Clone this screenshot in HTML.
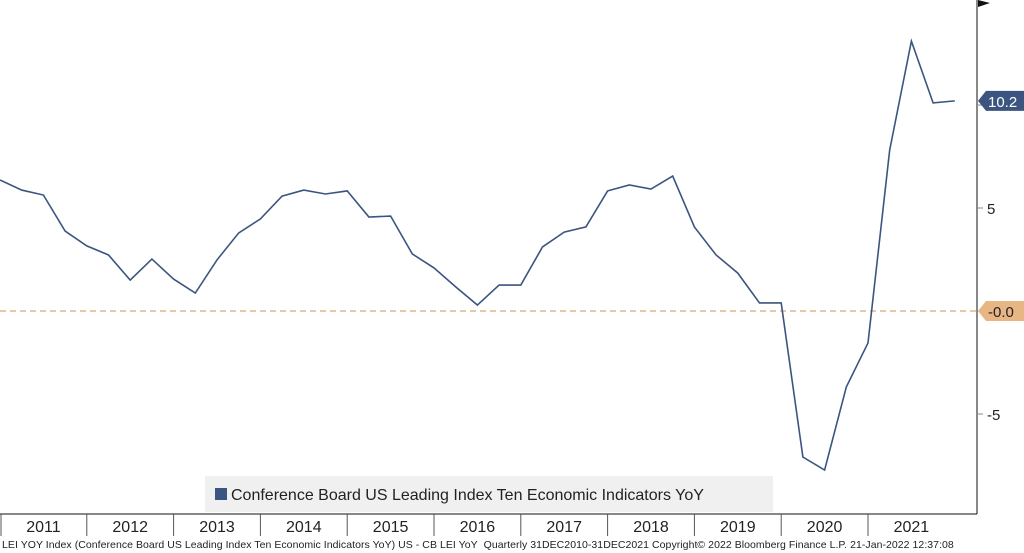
<!DOCTYPE html>
<html><head><meta charset="utf-8"><style>
body{margin:0;background:#fff;font-family:"Liberation Sans",sans-serif}
#wrap{position:relative;width:1024px;height:553px;overflow:hidden}
</style></head><body>
<div id="wrap">
<svg id="svg" width="1024" height="553"></svg>
<div style="position:absolute;left:2px;top:539px;font-size:10.5px;color:#222;white-space:nowrap;letter-spacing:0.05px">LEI YOY Index (Conference Board US Leading Index Ten Economic Indicators YoY) US - CB LEI YoY&nbsp; Quarterly 31DEC2010-31DEC2021 Copyright© 2022 Bloomberg Finance L.P. 21-Jan-2022 12:37:08</div>
</div>
<script>
const years=["2011","2012","2013","2014","2015","2016","2017","2018","2019","2020","2021"];
const values=[6.36,5.87,5.63,3.88,3.16,2.72,1.50,2.52,1.55,0.87,2.48,3.79,4.47,5.58,5.87,5.68,5.83,4.56,4.61,2.77,2.09,1.17,0.29,1.26,1.26,3.11,3.83,4.08,5.83,6.12,5.92,6.55,4.08,2.72,1.84,0.39,0.39,-7.09,-7.72,-3.69,-1.55,7.82,13.1,10.1,10.2];
const yTicks=[-5,5];
const NS="http://www.w3.org/2000/svg";
const svg=document.getElementById('svg');
function el(t,a,p){const e=document.createElementNS(NS,t);for(const k in a)e.setAttribute(k,a[k]);(p||svg).appendChild(e);return e;}
const x=i=>i*21.7;
const y=v=>311-v*20.6;
const yearW=86.8;
// zero line
const z=el('line',{x1:0,x2:977,y1:y(0),y2:y(0),stroke:'#d9a878','stroke-width':1.2,'stroke-dasharray':'6,4'});


// axis
const ax=el('line',{x1:977,x2:977,y1:0,y2:514,stroke:'#888','stroke-width':2});


el('path',{d:'M978,0 L990,3 L978,7 Z',fill:'#111'});
[10,0].forEach(v=>{const t=el('line',{x1:977,x2:983,y1:y(v),y2:y(v),stroke:'#888'});});
yTicks.forEach(v=>{
 const t=el('line',{x1:977,x2:983,y1:y(v),y2:y(v),stroke:'#888'});
 
 
 const tx=el('text',{x:987,y:y(v)+6,'font-size':15,fill:'#222','font-family':'Liberation Sans'});
 tx.textContent=String(v);
 
 
});
// series
const pl=el('polyline',{points:values.map((v,i)=>x(i)+','+y(v)).join(' '),fill:'none',stroke:'#3b5580','stroke-width':1.6});


// last value tag
const last=values[values.length-1];
const ly=y(last);
const tag=el('path',{d:`M978,${ly} L986,${ly-10} L1024,${ly-10} L1024,${ly+10} L986,${ly+10} Z`,fill:'#3b5580'});


const tt=el('text',{x:988,y:ly+6,'font-size':15,fill:'#fff'});
tt.textContent=last.toFixed(1);


const zy=y(0);
const ztag=el('path',{d:`M978,${zy} L986,${zy-10} L1024,${zy-10} L1024,${zy+10} L986,${zy+10} Z`,fill:'#e8b584'});


const zt=el('text',{x:988,y:zy+6,'font-size':15,fill:'#222'});
zt.textContent='-0.0';


// legend
const lg=el('rect',{x:205,y:476,width:568,height:36,fill:'#f0f0f0'});


el('rect',{x:215,y:488,width:12,height:12,fill:'#3b5580'});
const lt=el('text',{x:231,y:500,'font-size':16,fill:'#222'});
lt.textContent='Conference Board US Leading Index Ten Economic Indicators YoY';


// x axis
const xl=el('line',{x1:0,x2:977,y1:514,y2:514,stroke:'#111','stroke-width':1});


years.forEach((yr,i)=>{
 if(i>0){const s=el('line',{x1:i*yearW,x2:i*yearW,y1:514,y2:536,stroke:'#555'});}
 const t=el('text',{x:i*yearW+yearW/2,y:532,'font-size':16,fill:'#222','text-anchor':'middle'});
 t.textContent=yr;
 
 
});
const s0=el('line',{x1:1,x2:1,y1:514,y2:536,stroke:'#555'});
</script>
</body></html>
